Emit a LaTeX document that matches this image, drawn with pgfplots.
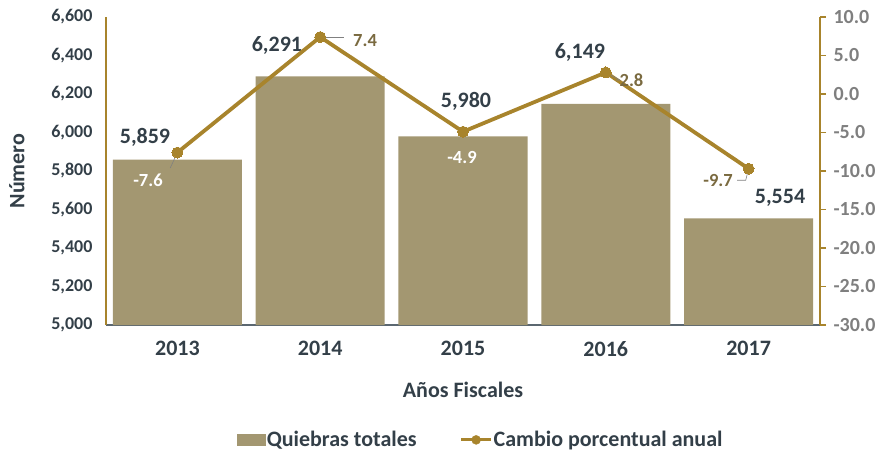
\documentclass[border=0pt]{standalone}
\usepackage{pgfplots}
\pgfplotsset{compat=1.18}
\usepackage{fontspec}
\setmainfont{Carlito}
\definecolor{barc}{HTML}{A39771}
\definecolor{gold}{HTML}{A8842C}
\definecolor{darktext}{HTML}{333F48}
\definecolor{graytext}{HTML}{7F7F7F}
\definecolor{axisgray}{HTML}{5B6770}
\definecolor{brownlab}{HTML}{7A6A40}
\newcommand{\tickfont}{\bfseries\fontsize{18}{20}\selectfont}
\newcommand{\bigfont}{\bfseries\fontsize{22}{24}\selectfont}
\newcommand{\rightfont}{\bfseries\fontsize{20}{22}\selectfont}
\newcommand{\datafont}{\bfseries\fontsize{22}{24}\selectfont}
\newcommand{\linefont}{\bfseries\fontsize{18.5}{21}\selectfont}
\begin{document}
\begin{tikzpicture}
\begin{axis}[
  scale only axis, width=714pt, height=308pt,
  xmin=-0.5, xmax=4.5, ymin=5000, ymax=6600,
  axis x line*=bottom, axis y line*=left,
  x axis line style={draw=axisgray, line width=1.5pt, -},
  y axis line style={draw=gold, line width=1.5pt, -},
  xtick={0,1,2,3,4}, xticklabels={2013,2014,2015,2016,2017},
  ytick={5000,5200,...,6600},
  xtick style={draw=none}, ytick style={draw=none},
  yticklabel style={font=\tickfont, color=darktext, xshift=-10pt},
  xticklabel style={font=\bigfont, color=darktext, yshift=-13pt},
  /pgf/number format/.cd, 1000 sep={,}, assume math mode=true, /pgfplots/.cd,
  xlabel={Años Fiscales}, ylabel={Número},
  xlabel style={font=\bigfont, color=darktext, yshift=-18pt},
  ylabel style={font=\bigfont, color=darktext, yshift=20pt},
  legend style={at={(0.524,-0.373)}, anchor=center, legend columns=2, draw=none,
    font=\bigfont, text=darktext, inner xsep=0pt,
    nodes={inner xsep=1pt},
    /tikz/every even column/.append style={column sep=42pt}},
  clip=false,
]
\addplot[ybar, bar width=129pt, fill=barc, draw=none,
  legend image code/.code={\fill[barc] (0pt,-6pt) rectangle (29pt,6pt);}]
  coordinates {(0,5859) (1,6291) (2,5980) (3,6149) (4,5554)};
\addlegendentry{Quiebras totales}
\addlegendimage{legend image code/.code={\draw[gold, line width=3pt] (0pt,0pt) -- (30pt,0pt); \fill[gold] (15pt,0pt) circle (4.5pt);}}
\addlegendentry{Cambio porcentual anual}
\node[font=\datafont, text=darktext] at (axis cs:-0.227,5977) {5,859};
\node[font=\datafont, text=darktext] at (axis cs:0.697,6454) {6,291};
\node[font=\datafont, text=darktext] at (axis cs:2.021,6164) {5,980};
\node[font=\datafont, text=darktext] at (axis cs:2.819,6418) {6,149};
\node[font=\datafont, text=darktext] at (axis cs:4.22,5660) {5,554};
\end{axis}
\begin{axis}[
  scale only axis, width=714pt, height=308pt,
  xmin=-0.5, xmax=4.5, ymin=-30, ymax=10,
  axis y line*=right, axis x line=none,
  y axis line style={draw=gold, line width=1.5pt, -},
  ytick={-30,-25,...,10},
  ytick style={draw=gold, line width=1.5pt},
  tick align=outside, major tick length=6pt,
  yticklabel style={font=\rightfont, color=graytext, xshift=4pt},
  /pgf/number format/.cd, fixed, fixed zerofill, precision=1, assume math mode=true, /pgfplots/.cd,
  clip=false,
]
\addplot[gold, line width=3.8pt, mark=*, mark size=5.5pt, mark options={fill=gold, draw=gold, line width=0pt}]
  coordinates {(0,-7.6) (1,7.4) (2,-4.9) (3,2.8) (4,-9.7)};
\draw[gray, line width=0.6pt] (axis cs:0,-7.6) -- (axis cs:-0.05,-9.6);
\draw[gray, line width=0.6pt] (axis cs:1,7.4) -- (axis cs:1.17,7.4);
\draw[gray, line width=0.6pt] (axis cs:3,2.8) -- (axis cs:3.1,1.8) -- (axis cs:3.07,1.8);
\draw[gray, line width=0.6pt] (axis cs:4,-9.7) -- (axis cs:3.98,-11.2) -- (axis cs:3.92,-11.2);
\node[font=\linefont, text=white] at (axis cs:-0.206,-11.17) {-7.6};
\node[font=\linefont, text=brownlab] at (axis cs:1.314,6.9) {7.4};
\node[font=\linefont, text=white] at (axis cs:1.993,-8.3) {-4.9};
\node[font=\linefont, text=brownlab] at (axis cs:3.18,1.8) {2.8};
\node[font=\linefont, text=brownlab] at (axis cs:3.786,-11.17) {-9.7};
\end{axis}
\pgfresetboundingbox
\path (-106pt,-130pt) rectangle (773pt,325pt);
\end{tikzpicture}
\end{document}
